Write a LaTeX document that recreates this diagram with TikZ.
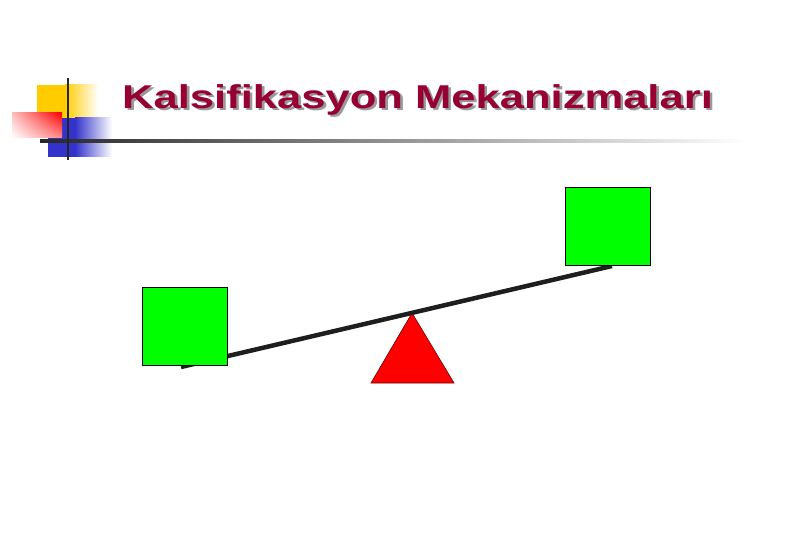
\documentclass[tikz,border=0pt]{standalone}
\usepackage{fontspec}
\setmainfont{Liberation Sans}
\usetikzlibrary{shadings}
\definecolor{titlered}{RGB}{150,0,50}
\definecolor{decoyellow}{RGB}{255,204,0}
\definecolor{decoblue}{RGB}{51,51,204}
\definecolor{beamgray}{RGB}{30,30,30}
\definecolor{boxgreen}{RGB}{0,255,0}
\newcommand{\shadowtitle}[1]{\scalebox{1.32}[1]{\rlap{\hspace{2pt}\raisebox{-2.2pt}{\color{black!40}#1}}{\color{titlered}#1}}}
\begin{document}
\begin{tikzpicture}[x=1pt,y=-1pt,
  weight/.style={draw=black, line width=0.8pt, fill=boxgreen, minimum width=85pt, minimum height=78pt, inner sep=0pt},
  titletext/.style={font=\fontsize{33}{40}\bfseries\selectfont, inner sep=0pt, anchor=base west}]
\useasboundingbox (0,0) rectangle (810,540);
% decoration
\fill[decoyellow] (37,85) rectangle (66,118);
\shade[left color=decoyellow, right color=white] (65,85) rectangle (98,118);
\fill[decoblue] (48,118) rectangle (76,157);
\shade[left color=decoblue, right color=white] (75,118) rectangle (112,157);
\shade[upper right=red, upper left=red!25!white, lower right=red!45!white, lower left=white] (12,113) rectangle (62,138);
\shade[left color=black!85, right color=white] (40,140) rectangle (748,142.5);
\draw[line width=2.5pt, black!85] (68,78) -- (68,160);
% title
\node[titletext] (title) at (122,108.3) {\shadowtitle{Kalsifikasyon Mekanizmaları}};
% seesaw
\coordinate (apex) at (412,313);
\coordinate (baseL) at (371,383);
\coordinate (baseR) at (454,383);
\filldraw[fill=red, draw=black!60!red, line width=0.6pt] (apex) -- (baseL) -- (baseR) -- cycle;
\coordinate (beamL) at (181,367);
\coordinate (beamR) at (612,266);
\draw[beamgray, line width=4.5pt] (beamL) -- (beamR);
\node[weight] (left) at (184.5,326) {};
\node[weight] (right) at (608,226) {};
\end{tikzpicture}
\end{document}
